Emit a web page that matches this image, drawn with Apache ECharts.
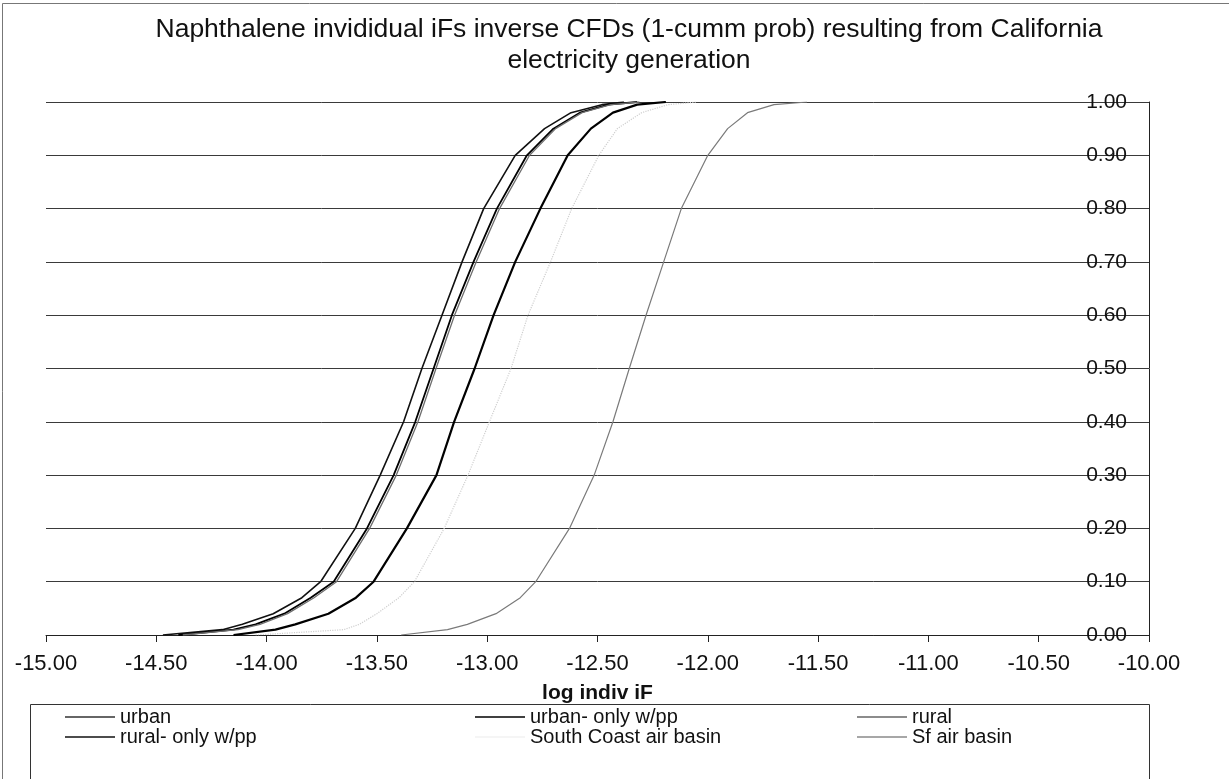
<!DOCTYPE html>
<html>
<head>
<meta charset="utf-8">
<script src="https://cdn.jsdelivr.net/npm/echarts@6/dist/echarts.min.js"></script>
<style>
  html, body { margin: 0; padding: 0; background: #fff; }
  #chart { width: 1229px; height: 779px; }
</style>
</head>
<body>
<div id="chart"></div>
<script>
// Cumulative probability levels (y values) shared by all series
const probs = [0, 0.01, 0.02, 0.04, 0.07, 0.1, 0.2, 0.3, 0.4, 0.5, 0.6, 0.7, 0.8, 0.9, 0.95, 0.98, 0.995, 1.0];
// log indiv iF (x values) read at each probability level
const urban      = [-14.47, -14.20, -14.11, -13.97, -13.84, -13.755, -13.598, -13.485, -13.379, -13.296, -13.205, -13.114, -13.016, -12.873, -12.74, -12.62, -12.48, -12.38];
const urbanPP    = [-14.40, -14.15, -14.05, -13.92, -13.80, -13.696, -13.545, -13.424, -13.326, -13.243, -13.160, -13.062, -12.956, -12.820, -12.70, -12.58, -12.45, -12.32];
const rural      = [-14.38, -14.13, -14.03, -13.905, -13.785, -13.683, -13.533, -13.412, -13.314, -13.232, -13.148, -13.050, -12.944, -12.808, -12.69, -12.57, -12.44, -12.31];
const ruralPP    = [-14.15, -13.96, -13.87, -13.72, -13.595, -13.515, -13.364, -13.230, -13.150, -13.057, -12.971, -12.873, -12.759, -12.635, -12.53, -12.43, -12.32, -12.19];
const southCoast = [-14.05, -13.65, -13.58, -13.50, -13.40, -13.33, -13.195, -13.087, -12.990, -12.892, -12.815, -12.713, -12.617, -12.494, -12.41, -12.30, -12.18, -12.05];
const sfBasin    = [-13.39, -13.18, -13.09, -12.96, -12.85, -12.78, -12.627, -12.515, -12.430, -12.356, -12.280, -12.200, -12.120, -12.000, -11.91, -11.82, -11.70, -11.55];

const seriesNames = ['urban', 'urban- only w/pp', 'rural', 'rural- only w/pp', 'South Coast air basin', 'Sf air basin'];
const seriesValues = [urban, urbanPP, rural, ruralPP, southCoast, sfBasin];

const xMin = -15, xMax = -10, xStep = 0.5;
const yMin = 0, yMax = 1, yStep = 0.1;

const styles = [
  { color: '#111111', width: 1.6, type: 'solid' },
  { color: '#000000', width: 1.8, type: 'solid' },
  { color: '#6e6e6e', width: 1.3, type: 'solid' },
  { color: '#000000', width: 2.2, type: 'solid' },
  { color: '#cfcfcf', width: 1.2, type: 'dotted' },
  { color: '#7a7a7a', width: 1.2, type: 'solid' }
];
const legendColors = ['#333333', '#000000', '#666666', '#111111', '#f2f2f2', '#8a8a8a'];

const FONT = '"Liberation Sans", Arial, sans-serif';

const chart = echarts.init(document.getElementById('chart'), null, { renderer: 'canvas' });

const series = seriesNames.map((name, i) => ({
  name: name,
  type: 'line',
  symbol: 'none',
  showSymbol: false,
  smooth: false,
  color: legendColors[i],
  itemStyle: { color: legendColors[i] },
  lineStyle: { color: styles[i].color, width: styles[i].width, type: styles[i].type },
  data: probs.map((p, k) => [seriesValues[i][k], p]),
  z: i === 4 ? 2 : 3
}));

const legendText = { fontFamily: FONT, fontSize: 20, color: '#111' };
const legendCommon = {
  orient: 'vertical',
  top: 707,
  icon: 'rect',
  itemWidth: 50,
  itemHeight: 1.5,
  itemGap: 0,
  selectedMode: false,
  textStyle: legendText,
  padding: 0
};

chart.setOption({
  backgroundColor: '#ffffff',
  animation: false,
  title: {
    text: 'Naphthalene invididual iFs inverse CFDs (1-cumm prob) resulting from California\nelectricity generation',
    left: 624,
    top: 9,
    textAlign: 'center',
    textStyle: { fontFamily: FONT, fontSize: 26.5, fontWeight: 'normal', color: '#111', lineHeight: 31 }
  },
  grid: { left: 46, right: 80, top: 102, bottom: 144, containLabel: false },
  xAxis: {
    type: 'value',
    min: xMin, max: xMax, interval: xStep,
    name: 'log indiv iF',
    nameLocation: 'middle',
    nameGap: 48,
    nameTextStyle: { fontFamily: FONT, fontSize: 21, fontWeight: 'bold', color: '#111' },
    axisLine: { show: true, onZero: false, lineStyle: { color: '#222', width: 1 } },
    axisTick: { show: true, inside: false, length: 7, lineStyle: { color: '#222' } },
    axisLabel: {
      fontFamily: FONT, fontSize: 22, color: '#111', margin: 18,
      formatter: v => v.toFixed(2)
    },
    splitLine: { show: false }
  },
  yAxis: {
    type: 'value',
    position: 'right',
    min: yMin, max: yMax, interval: yStep,
    axisLine: { show: true, lineStyle: { color: '#222', width: 1 } },
    axisTick: { show: false },
    axisLabel: {
      inside: true, margin: 22,
      fontFamily: FONT, fontSize: 21, color: '#111',
      formatter: v => v.toFixed(2)
    },
    splitLine: { show: true, lineStyle: { color: '#3a3a3a', width: 1 } }
  },
  legend: [
    Object.assign({ left: 65, data: [seriesNames[0], seriesNames[3]] }, legendCommon),
    Object.assign({ left: 475, data: [seriesNames[1], seriesNames[4]] }, legendCommon),
    Object.assign({ left: 857, data: [seriesNames[2], seriesNames[5]] }, legendCommon)
  ],
  graphic: [
    { type: 'rect', silent: true, z: -1, shape: { x: 2.5, y: 3.5, width: 1300, height: 900 }, style: { fill: null, stroke: '#777', lineWidth: 1 } },
    { type: 'rect', silent: true, z: -1, shape: { x: 30.5, y: 704.5, width: 1119, height: 200 }, style: { fill: null, stroke: '#333', lineWidth: 1 } }
  ],
  series: series
});
</script>
</body>
</html>
